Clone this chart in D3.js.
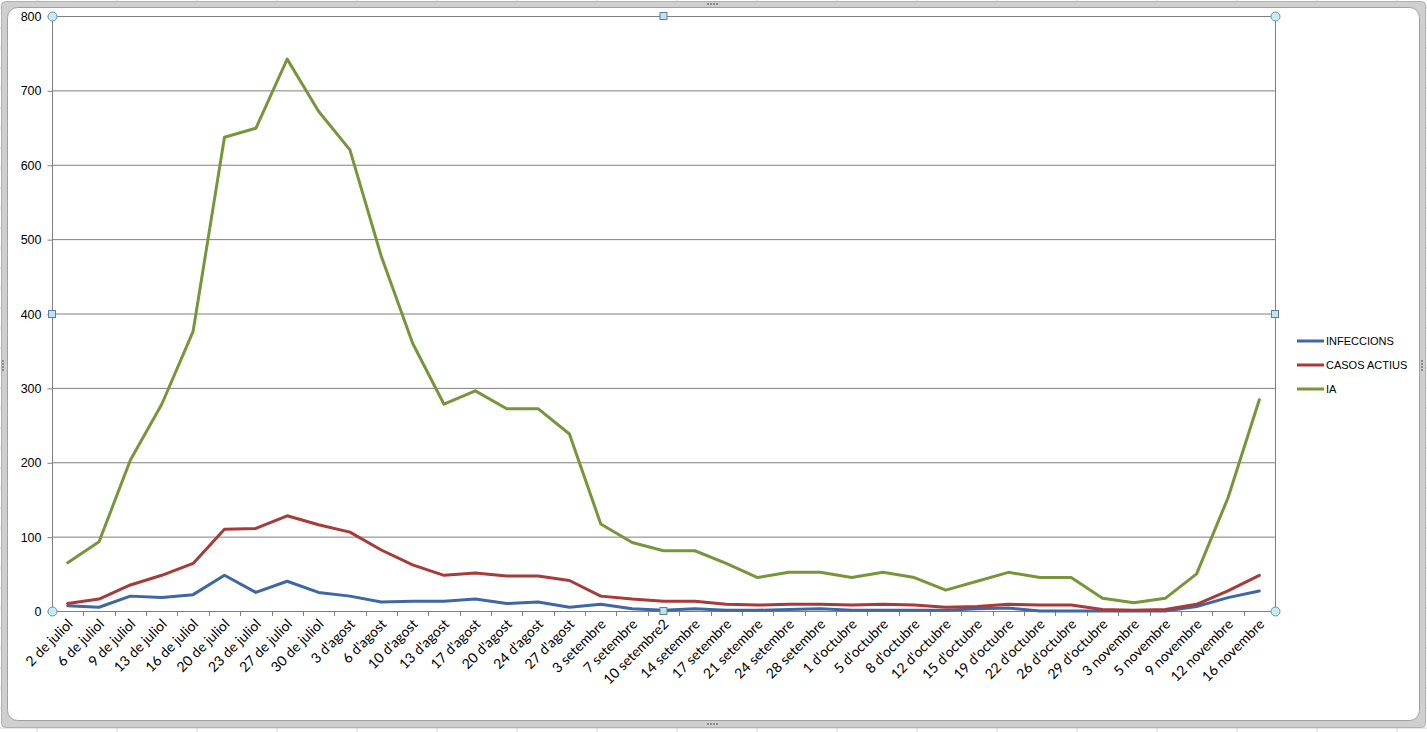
<!DOCTYPE html>
<html>
<head>
<meta charset="utf-8">
<script src="https://cdn.jsdelivr.net/npm/d3@7"></script>
<style>
  html, body { margin: 0; padding: 0; background: #ffffff; }
  svg { display: block; }
</style>
</head>
<body>
<svg id="chart" width="1427" height="732"></svg>
<script>
const categories = [
  "2 de juliol", "6 de juliol", "9 de juliol", "13 de juliol", "16 de juliol",
  "20 de juliol", "23 de juliol", "27 de juliol", "30 de juliol", "3 d'agost",
  "6 d'agost", "10 d'agost", "13 d'agost", "17 d'agost", "20 d'agost",
  "24 d'agost", "27 d'agost", "3 setembre", "7 setembre", "10 setembre2",
  "14 setembre", "17 setembre", "21 setembre", "24 setembre", "28 setembre",
  "1 d'octubre", "5 d'octubre", "8 d'octubre", "12 d'octubre", "15 d'octubre",
  "19 d'octubre", "22 d'octubre", "26 d'octubre", "29 d'octubre", "3 novembre",
  "5 novembre", "9 novembre", "12 novembre", "16 novembre"
];

const infeccions = [
  7, 5, 20, 18, 22, 48, 25, 40, 25, 20,
  12, 13, 13, 16, 10, 12, 5, 9, 3, 1,
  3, 1, 1, 2, 3, 1, 1, 1, 1, 3,
  4, 0, 0, 0, 0, 0, 6, 18, 27
];

const casosActius = [
  10, 16, 35, 48, 64, 110, 111, 128, 116, 106,
  82, 62, 48, 51, 47, 47, 41, 20, 16, 13,
  13, 9, 8, 9, 9, 8, 9, 8, 5, 6,
  9, 8, 8, 2, 1, 2, 9, 27, 48
];

const ia = [
  65, 93, 203, 278, 376, 637, 649, 742, 672, 620,
  477, 360, 278, 296, 272, 272, 238, 117, 92, 81,
  81, 64, 45, 52, 52, 45, 52, 45, 28, 40,
  52, 45, 45, 17, 11, 17, 50, 152, 284
];

const yTicks = [0, 100, 200, 300, 400, 500, 600, 700, 800];

const seriesNames = ["INFECCIONS", "CASOS ACTIUS", "IA"];
const seriesColors = ["#3e67a4", "#a63b39", "#77963b"];
const seriesValues = [infeccions, casosActius, ia];

const W = 1427, H = 732;
const plot = { left: 52, right: 1275, top: 16, bottom: 611 };

const svg = d3.select("#chart");

// ---- spreadsheet background (cell grid) ----
const bg = svg.append("g");
bg.append("rect").attr("width", W).attr("height", H).attr("fill", "#ffffff");
const colLines = d3.range(37, W, 80);
bg.selectAll("line.col").data(colLines).join("line")
  .attr("x1", d => d).attr("x2", d => d).attr("y1", 0).attr("y2", H)
  .attr("stroke", "#d0d0d0").attr("stroke-width", 1);
const rowLines = d3.range(8, H, 20);
bg.selectAll("line.row").data(rowLines).join("line")
  .attr("x1", 0).attr("x2", W).attr("y1", d => d).attr("y2", d => d)
  .attr("stroke", "#d0d0d0").attr("stroke-width", 1);

// ---- chart area frame ----
svg.append("rect")
  .attr("x", 1.5).attr("y", 1.5).attr("width", W - 3).attr("height", 726)
  .attr("rx", 4)
  .attr("fill", "#cfcfcf").attr("stroke", "#b0b0b0").attr("stroke-width", 1);
svg.append("rect")
  .attr("x", 7.5).attr("y", 7.5).attr("width", 1412).attr("height", 713)
  .attr("rx", 10)
  .attr("fill", "#ffffff").attr("stroke", "#a0a0a0").attr("stroke-width", 1);

// grip dots
function grip(x, y, vertical) {
  for (let k = 0; k < 4; k++) {
    svg.append("rect")
      .attr("x", vertical ? x : x + k * 3).attr("y", vertical ? y + k * 3 : y)
      .attr("width", 2).attr("height", 2).attr("fill", "#8c8c8c");
  }
}
grip(707, 3, false);
grip(707, 723, false);
grip(2, 360, true);
grip(1421, 360, true);

// ---- scales ----
const x = d3.scalePoint().domain(categories).range([plot.left, plot.right]).padding(0.5);
const band = (plot.right - plot.left) / categories.length;
const y = d3.scaleLinear().domain([0, 800]).range([plot.bottom, plot.top]);

const g = svg.append("g");

// gridlines
g.selectAll("line.grid").data(yTicks.filter(v => v > 0)).join("line")
  .attr("x1", plot.left).attr("x2", plot.right)
  .attr("y1", d => y(d) + 0.5).attr("y2", d => y(d) + 0.5)
  .attr("stroke", "#7f7f7f").attr("stroke-width", 1);

// plot area border (right side)
g.append("line")
  .attr("x1", plot.right + 0.5).attr("x2", plot.right + 0.5)
  .attr("y1", plot.top).attr("y2", plot.bottom)
  .attr("stroke", "#7f7f7f").attr("stroke-width", 1);

// y axis
const yAxis = g.append("g")
  .attr("transform", `translate(${plot.left + 0.5},0.5)`)
  .call(d3.axisLeft(y).tickValues(yTicks).tickSize(5).tickPadding(6).tickFormat(d3.format("d")));
yAxis.select(".domain").attr("stroke", "#7f7f7f").attr("d", `M0,${plot.top}V${plot.bottom}`);
yAxis.selectAll(".tick line").attr("stroke", "#7f7f7f");
yAxis.selectAll(".tick text")
  .attr("font-family", "'Liberation Sans', Arial, sans-serif")
  .attr("font-size", 12.5).attr("fill", "#000");

// x axis baseline & ticks at category boundaries
g.append("line")
  .attr("x1", plot.left).attr("x2", plot.right)
  .attr("y1", plot.bottom + 0.5).attr("y2", plot.bottom + 0.5)
  .attr("stroke", "#7f7f7f").attr("stroke-width", 1);
g.selectAll("line.xtick").data(d3.range(categories.length + 1)).join("line")
  .attr("x1", i => Math.round(plot.left + i * band) + 0.5)
  .attr("x2", i => Math.round(plot.left + i * band) + 0.5)
  .attr("y1", plot.bottom).attr("y2", plot.bottom + 5)
  .attr("stroke", "#7f7f7f").attr("stroke-width", 1);

// x labels
g.selectAll("text.xlabel").data(categories).join("text")
  .attr("class", "xlabel")
  .attr("transform", d => `translate(${x(d) + 6},${plot.bottom + 14}) rotate(-45)`)
  .attr("text-anchor", "end")
  .attr("font-family", "Lato, 'Open Sans', sans-serif")
  .attr("font-size", 14)
  .attr("fill", "#000")
  .text(d => d);

// lines
const line = d3.line()
  .x((d, i) => x(categories[i]))
  .y(d => y(d));

seriesValues.forEach((vals, s) => {
  g.append("path")
    .datum(vals)
    .attr("fill", "none")
    .attr("stroke", seriesColors[s])
    .attr("stroke-width", 3)
    .attr("stroke-linejoin", "round")
    .attr("stroke-linecap", "round")
    .attr("d", line);
});

// legend
const legend = svg.append("g").attr("transform", "translate(1297,341)");
seriesNames.forEach((name, i) => {
  const row = legend.append("g").attr("transform", `translate(0,${i * 24})`);
  row.append("line").attr("x1", 0).attr("x2", 27).attr("y1", 0).attr("y2", 0)
    .attr("stroke", seriesColors[i]).attr("stroke-width", 3);
  row.append("text").attr("x", 29).attr("y", 0).attr("dy", "0.36em")
    .attr("font-family", "'Liberation Sans', Arial, sans-serif")
    .attr("font-size", 11).attr("fill", "#000")
    .text(name);
});

// selection handles of the plot area
const midX = (plot.left + plot.right) / 2;
const midY = (plot.top + plot.bottom) / 2 + 0.5;
const circles = [[plot.left, plot.top], [plot.right, plot.top], [plot.left, plot.bottom], [plot.right, plot.bottom]];
const squares = [[midX, plot.top], [plot.left, midY], [plot.right, midY], [midX, plot.bottom]];
svg.selectAll("circle.handle").data(circles).join("circle")
  .attr("cx", d => d[0] + 0.5).attr("cy", d => d[1] + 0.5).attr("r", 4.5)
  .attr("fill", "#c6ecf3").attr("stroke", "#6f8ea6").attr("stroke-width", 1);
svg.selectAll("rect.handle").data(squares).join("rect")
  .attr("x", d => d[0] - 3.5).attr("y", d => d[1] - 3.5)
  .attr("width", 7).attr("height", 7)
  .attr("fill", "#b9e6f2").attr("stroke", "#5f7f98").attr("stroke-width", 1);
</script>
</body>
</html>
